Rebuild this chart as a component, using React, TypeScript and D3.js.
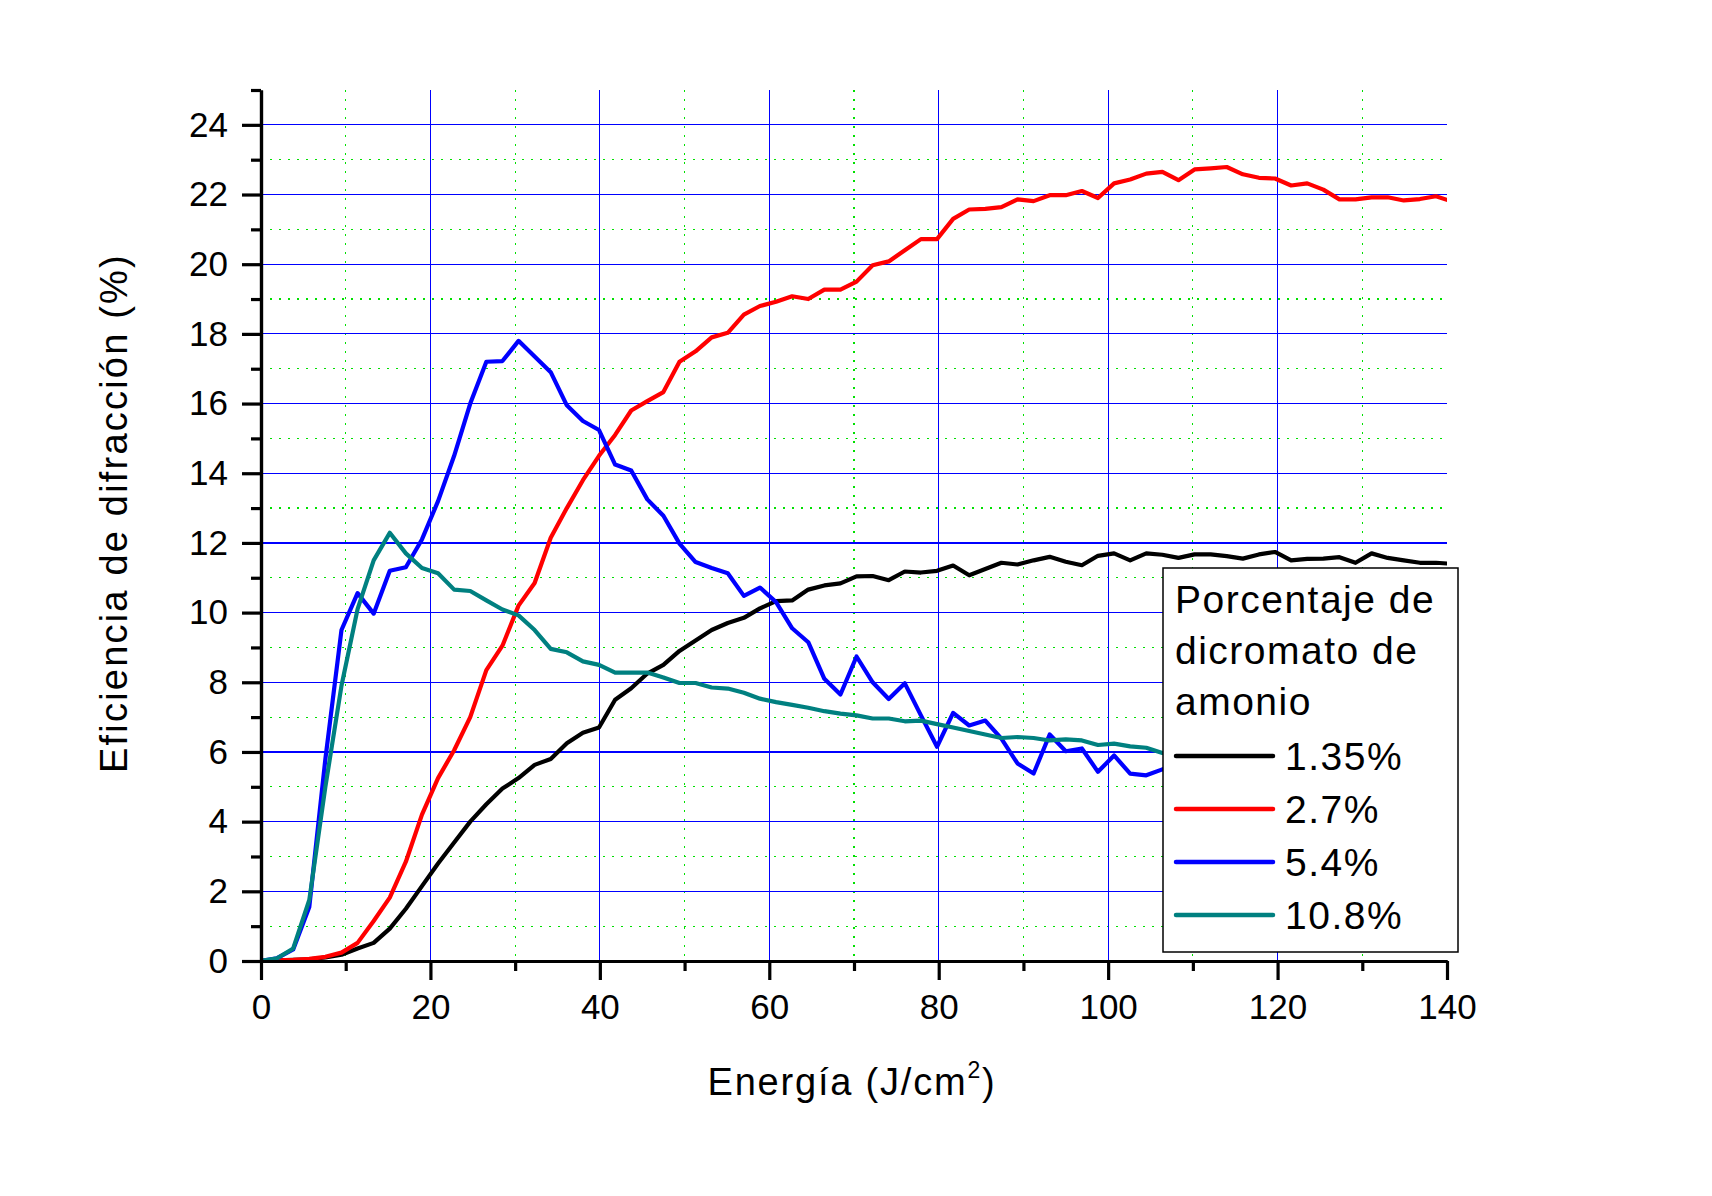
import React from 'react';
import { useRef, useEffect } from 'react';
import * as d3 from 'd3';

// energy (J/cm2) sampled by the instrument
const energy = [
  0, 1.9, 3.8, 5.7, 7.6, 9.5, 11.4, 13.3, 15.2, 17.1,
  19, 20.9, 22.8, 24.7, 26.6, 28.5, 30.4, 32.3, 34.2, 36.1,
  38, 39.9, 41.8, 43.7, 45.6, 47.5, 49.4, 51.3, 53.2, 55.1,
  57, 58.9, 60.8, 62.7, 64.6, 66.5, 68.4, 70.3, 72.2, 74.1,
  76, 77.9, 79.8, 81.7, 83.6, 85.5, 87.4, 89.3, 91.2, 93.1,
  95, 96.9, 98.8, 100.7, 102.6, 104.5, 106.4, 108.3, 110.2, 112.1,
  114, 115.9, 117.8, 119.7, 121.6, 123.5, 125.4, 127.3, 129.2, 131.1,
  133, 134.9, 136.8, 138.7, 140.6,
];

const eff135 = [
  0, 0.02, 0.03, 0.05, 0.1, 0.18, 0.36, 0.52, 0.93, 1.5,
  2.15, 2.8, 3.4, 4.0, 4.5, 4.95, 5.25, 5.63, 5.8, 6.25,
  6.55, 6.7, 7.5, 7.83, 8.25, 8.5, 8.9, 9.2, 9.5, 9.7,
  9.85, 10.12, 10.33, 10.35, 10.66, 10.78, 10.84, 11.04, 11.05, 10.93,
  11.18, 11.15, 11.2, 11.35, 11.07, 11.25, 11.43, 11.38, 11.5, 11.6,
  11.46, 11.36, 11.63, 11.7, 11.5, 11.7, 11.66, 11.57, 11.67, 11.67,
  11.62, 11.55, 11.67, 11.74, 11.5, 11.54, 11.55, 11.59, 11.43, 11.7,
  11.57, 11.5, 11.43, 11.43, 11.4,
];

const eff27 = [
  0, 0.02, 0.03, 0.06, 0.12, 0.24, 0.52, 1.15, 1.82, 2.85,
  4.2, 5.25, 6.05, 7.0, 8.35, 9.05, 10.2, 10.85, 12.15, 13.0,
  13.8, 14.5, 15.1, 15.8, 16.07, 16.33, 17.2, 17.5, 17.9, 18.03,
  18.55, 18.8, 18.92, 19.08, 19.0, 19.27, 19.27, 19.5, 19.97, 20.08,
  20.4, 20.72, 20.72, 21.3, 21.57, 21.59, 21.64, 21.86, 21.81, 21.98,
  21.98, 22.1, 21.9, 22.32, 22.43, 22.6, 22.65, 22.41, 22.72, 22.75,
  22.79, 22.58, 22.48, 22.46, 22.26, 22.32, 22.14, 21.86, 21.86, 21.92,
  21.92, 21.83, 21.87, 21.95, 21.8,
];

const eff54 = [
  0, 0.08, 0.33, 1.55, 5.8, 9.5, 10.56, 9.97, 11.2, 11.3,
  12.1, 13.2, 14.5, 16.0, 17.2, 17.22, 17.8, 17.35, 16.9, 15.95,
  15.5, 15.24, 14.25, 14.08, 13.25, 12.78, 11.98, 11.45, 11.28, 11.13,
  10.48, 10.72, 10.3, 9.55, 9.15, 8.1, 7.65, 8.74, 8.0, 7.52,
  7.97, 7.05, 6.15, 7.12, 6.76, 6.9, 6.38, 5.67, 5.38, 6.5,
  6.02, 6.1, 5.43, 5.9, 5.38, 5.33, 5.5, 5.6, 5.4, 5.5,
  5.3, 5.45, 5.2, 5.35, 5.2, 5.3, 5.1, 5.25, 5.05, 5.15,
  5.0, 5.1, 4.95, 5.0, 4.9,
];

const eff108 = [
  0, 0.08, 0.36, 1.75, 5.0, 7.9, 10.1, 11.5, 12.29, 11.7,
  11.28, 11.13, 10.66, 10.62, 10.35, 10.09, 9.92, 9.5, 8.96, 8.86,
  8.6, 8.5, 8.28, 8.28, 8.28, 8.14, 7.98, 7.98, 7.85, 7.82,
  7.7, 7.53, 7.43, 7.35, 7.27, 7.17, 7.1, 7.05, 6.96, 6.96,
  6.88, 6.9, 6.8, 6.7, 6.6, 6.5, 6.4, 6.43, 6.4, 6.33,
  6.36, 6.33, 6.2, 6.24, 6.16, 6.12, 5.97, 5.9, 5.85, 5.8,
  5.78, 5.72, 5.7, 5.65, 5.6, 5.58, 5.52, 5.5, 5.45, 5.42,
  5.38, 5.35, 5.3, 5.28, 5.25,
];

const seriesNames = ['1.35%', '2.7%', '5.4%', '10.8%'];
const seriesColors = ['#000000', '#ff0000', '#0000ff', '#008080'];
const legendTitle = ['Porcentaje de', 'dicromato de', 'amonio'];

const yMajorTicks = [0, 2, 4, 6, 8, 10, 12, 14, 16, 18, 20, 22, 24];
const yMinorTicks = [1, 3, 5, 7, 9, 11, 13, 15, 17, 19, 21, 23, 25];
const xMajorTicks = [0, 20, 40, 60, 80, 100, 120, 140];
const xMinorTicks = [10, 30, 50, 70, 90, 110, 130];

const FONT = "'Liberation Sans', Arial, Helvetica, sans-serif";

export default function App() {
  const svgRef = useRef(null);

  useEffect(() => {
    const w = 1712;
    const h = 1196;
    const left = 261;
    const right = 1447;
    const top = 90;
    const bottom = 961;

    const svg = d3.select(svgRef.current).attr('width', w).attr('height', h);
    svg.selectAll('*').remove();
    svg.append('rect').attr('width', w).attr('height', h).attr('fill', '#fff');

    const x = d3.scaleLinear().domain([0, 140]).range([left, right]);
    const y = d3.scaleLinear().domain([0, 25]).range([bottom, top]);

    // grid
    const grid = svg.append('g').attr('shape-rendering', 'crispEdges');
    grid
      .selectAll('.hmin')
      .data(yMinorTicks.filter((d) => d < 25))
      .join('line')
      .attr('x1', left)
      .attr('x2', right)
      .attr('y1', (d) => y(d))
      .attr('y2', (d) => y(d))
      .attr('stroke', '#00e000')
      .attr('stroke-width', 1.2)
      .attr('stroke-dasharray', '2,7');
    grid
      .selectAll('.vmin')
      .data(xMinorTicks)
      .join('line')
      .attr('x1', (d) => x(d))
      .attr('x2', (d) => x(d))
      .attr('y1', top)
      .attr('y2', bottom)
      .attr('stroke', '#00e000')
      .attr('stroke-width', 1.2)
      .attr('stroke-dasharray', '2,7');
    grid
      .selectAll('.hmaj')
      .data(yMajorTicks.filter((d) => d > 0))
      .join('line')
      .attr('x1', left)
      .attr('x2', right)
      .attr('y1', (d) => y(d))
      .attr('y2', (d) => y(d))
      .attr('stroke', '#0000ff')
      .attr('stroke-width', 1.2);
    grid
      .selectAll('.vmaj')
      .data(xMajorTicks.filter((d) => d > 0 && d < 140))
      .join('line')
      .attr('x1', (d) => x(d))
      .attr('x2', (d) => x(d))
      .attr('y1', top)
      .attr('y2', bottom)
      .attr('stroke', '#0000ff')
      .attr('stroke-width', 1.2);

    // curves
    svg
      .append('clipPath')
      .attr('id', 'plot-clip')
      .append('rect')
      .attr('x', left)
      .attr('y', top - 10)
      .attr('width', right - left)
      .attr('height', bottom - top + 20);

    const series = [eff135, eff27, eff54, eff108];
    const line = d3
      .line<number>()
      .x((d, i) => x(energy[i]))
      .y((d) => y(d));

    svg
      .append('g')
      .attr('clip-path', 'url(#plot-clip)')
      .selectAll('path')
      .data(series)
      .join('path')
      .attr('d', (d) => line(d))
      .attr('fill', 'none')
      .attr('stroke', (d, i) => seriesColors[i])
      .attr('stroke-width', 4.2)
      .attr('stroke-linejoin', 'round');

    // axes
    const styleAxis = (g, labels) => {
      g.select('.domain').attr('stroke', '#000').attr('stroke-width', 3.2);
      g.selectAll('.tick line').attr('stroke', '#000').attr('stroke-width', 3.2);
      if (labels) {
        g.selectAll('.tick text')
          .attr('fill', '#000')
          .style('font-family', FONT)
          .style('font-size', '35px');
      }
    };

    svg
      .append('g')
      .attr('transform', `translate(${left},0)`)
      .call(
        d3.axisLeft(y).tickValues(yMinorTicks).tickSize(10).tickSizeOuter(0).tickFormat(() => '')
      )
      .call((g) => styleAxis(g, false));
    svg
      .append('g')
      .attr('transform', `translate(${left},0)`)
      .call(d3.axisLeft(y).tickValues(yMajorTicks).tickSize(19).tickPadding(14).tickSizeOuter(0))
      .call((g) => styleAxis(g, true));

    svg
      .append('g')
      .attr('transform', `translate(0,${bottom})`)
      .call(
        d3.axisBottom(x).tickValues(xMinorTicks).tickSize(10).tickSizeOuter(0).tickFormat(() => '')
      )
      .call((g) => styleAxis(g, false));
    svg
      .append('g')
      .attr('transform', `translate(0,${bottom})`)
      .call(d3.axisBottom(x).tickValues(xMajorTicks).tickSize(19).tickPadding(14).tickSizeOuter(0))
      .call((g) => styleAxis(g, true));

    // axis titles
    const xt = svg
      .append('text')
      .attr('x', 852)
      .attr('y', 1095)
      .attr('text-anchor', 'middle')
      .style('font-family', FONT)
      .style('font-size', '38px')
      .style('letter-spacing', '1.8px')
      .attr('fill', '#000');
    xt.append('tspan').text('Energía (J/cm');
    xt.append('tspan').attr('dy', -17).style('font-size', '23px').text('2');
    xt.append('tspan').attr('dy', 17).text(')');

    svg
      .append('text')
      .attr('transform', 'translate(127,513) rotate(-90)')
      .attr('text-anchor', 'middle')
      .style('font-family', FONT)
      .style('font-size', '38px')
      .style('letter-spacing', '2.2px')
      .attr('fill', '#000')
      .text('Eficiencia de difracción (%)');

    // legend
    const lg = svg.append('g');
    lg.append('rect')
      .attr('x', 1163)
      .attr('y', 568)
      .attr('width', 295)
      .attr('height', 384)
      .attr('fill', '#fff')
      .attr('stroke', '#000')
      .attr('stroke-width', 1.5);
    lg.selectAll('.lt')
      .data(legendTitle)
      .join('text')
      .attr('x', 1175)
      .attr('y', (d, i) => 613 + i * 51)
      .style('font-family', FONT)
      .style('font-size', '39px')
      .style('letter-spacing', '1.5px')
      .attr('fill', '#000')
      .text((d) => d);
    const rows = lg
      .selectAll('.row')
      .data(seriesNames)
      .join('g')
      .attr('transform', (d, i) => `translate(0,${756 + i * 53})`);
    rows
      .append('line')
      .attr('x1', 1176)
      .attr('x2', 1273)
      .attr('stroke', (d, i) => seriesColors[i])
      .attr('stroke-width', 4.5)
      .attr('stroke-linecap', 'round');
    rows
      .append('text')
      .attr('x', 1285)
      .attr('y', 14)
      .style('font-family', FONT)
      .style('font-size', '39px')
      .style('letter-spacing', '1.5px')
      .attr('fill', '#000')
      .text((d) => d);
  }, []);

  return (
    <svg
      ref={svgRef}
      style={{ position: 'absolute', left: 0, top: 0, display: 'block' }}
    ></svg>
  );
}
